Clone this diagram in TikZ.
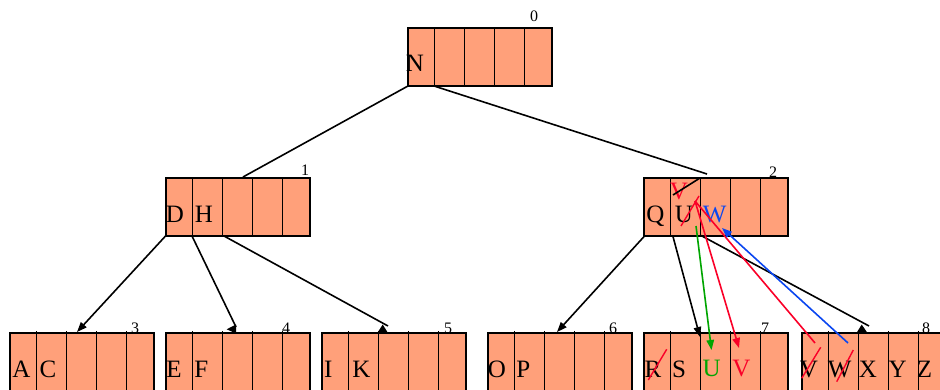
\documentclass[tikz,border=0pt]{standalone}
\usepackage{fontspec}
\setmainfont{Liberation Serif}
\usetikzlibrary{arrows.meta}
\definecolor{salmonfill}{RGB}{255,160,122}
\definecolor{myred}{RGB}{250,0,40}
\definecolor{mygreen}{RGB}{0,165,0}
\definecolor{myblue}{RGB}{10,70,240}
\newcommand\recbox[4]{%
  \node[rec] (#1) at (#2,#3) {};
  \foreach \d in {26.5,56.5,86.5,116.5} \draw[cell] (#2+\d,#3-#4) -- (#2+\d,#3+58);
}
\begin{document}
\begin{tikzpicture}[x=1pt,y=-1pt,
  rec/.style={draw=black, fill=salmonfill, line width=1.4pt, minimum width=144pt, minimum height=58pt, inner sep=0pt, outer sep=0pt, anchor=north west},
  cell/.style={line width=1.4pt, black},
  key/.style={font=\fontsize{25}{25}\selectfont, inner sep=0pt, anchor=base},
  num/.style={font=\fontsize{16}{16}\selectfont, inner sep=0pt},
  edge/.style={line width=1.6pt, black},
  tipped/.style={-{Triangle[length=10pt,width=7.5pt]}},
  strike/.style={myred, line width=1.4pt},
  head/.style={fill=black, draw=none}]
\useasboundingbox (0,0) rectangle (940,390);
\clip (0,0) rectangle (940,390);
% records
\recbox{n0}{408}{28}{0}
\recbox{n1}{166}{178}{0}
\recbox{n2}{644}{178}{0}
\recbox{n3}{10}{333}{2}
\recbox{n4}{166}{333}{2}
\recbox{n5}{322}{333}{2}
\recbox{n6}{488}{333}{2}
\recbox{n7}{644}{333}{2}
\recbox{n8}{802}{333}{2}
% numbers
\node[num] (l0) at (534,16) {0};
\node[num] (l1) at (305,170.5) {1};
\node[num] (l2) at (773,172.5) {2};
\node[num] (l3) at (135,328) {3};
\node[num] (l4) at (286,328) {4};
\node[num] (l5) at (448,328) {5};
\node[num] (l6) at (613,328) {6};
\node[num] (l7) at (765,328) {7};
\node[num] (l8) at (926,328.5) {8};
% keys
\node[key] (kN) at (415,72) {N};
\node[key] (kD) at (175,222.5) {D};
\node[key] (kH) at (204,222.5) {H};
\node[key] (kQ) at (655.5,222.5) {Q};
\node[key] (kU) at (684,223) {U};
\node[key, text=myblue] (kW) at (714.7,223) {W};
\node[key, text=myred] (kV) at (679,200) {V};
\node[key] (kA) at (21.3,377.5) {A};
\node[key] (kC) at (48,377.5) {C};
\node[key] (kE) at (174,377) {E};
\node[key] (kF) at (201.3,377) {F};
\node[key] (kI) at (328.3,377.5) {I};
\node[key] (kK) at (361.3,377.5) {K};
\node[key] (kO) at (497,377.5) {O};
\node[key] (kP) at (523.3,377.5) {P};
\node[key] (kR) at (653,377.5) {R};
\node[key] (kS) at (679,377.5) {S};
\node[key, text=mygreen] (kU7) at (711.7,376.5) {U};
\node[key, text=myred] (kV7) at (741.3,376.5) {V};
\node[key] (kV8) at (809,377.5) {V};
\node[key] (kW8) at (839.7,377.5) {W};
\node[key] (kX) at (868,377.5) {X};
\node[key] (kY) at (897.7,377.5) {Y};
\node[key] (kZ) at (924.5,377.5) {Z};
% connector end points
\coordinate (a0) at (408,86);   \coordinate (b1) at (243,177);
\coordinate (a0b) at (434,86);  \coordinate (b2) at (707,174);
\coordinate (h1) at (700,178);  \coordinate (h2) at (673,195);
\coordinate (a13) at (166,235.5); \coordinate (b3) at (77,332);
\coordinate (a14) at (192,236); \coordinate (b4) at (236,327);
\coordinate (a15) at (224,236); \coordinate (b5) at (388,326);
\coordinate (a26) at (645,235.5); \coordinate (b6) at (557,332);
\coordinate (a27) at (672.7,235.5); \coordinate (b7) at (700,337);
\coordinate (a28) at (701,235.5); \coordinate (b8) at (869,326);
\coordinate (gU) at (696,226);  \coordinate (gU7) at (711.5,350);
\coordinate (rV) at (695,201);  \coordinate (rV7) at (739,348);
\coordinate (rV8) at (815,343);
\coordinate (bW8) at (848,343); \coordinate (bW) at (722,228);
% black edges
\draw[edge] (a0) -- (b1);
\draw[edge] (a0b) -- (b2);
\draw[edge] (h1) -- (h2);
\draw[edge, tipped] (a13) -- (b3);
\draw[edge] (a14) -- (b4);
\fill[head] (226.7,329.3) -- (236,324.5) -- (236,333.5) -- cycle;
\draw[edge] (a15) -- (b5);
\fill[head] (382.7,324.5) -- (377.3,333) -- (388,333) -- cycle;
\draw[edge, tipped] (a26) -- (b6);
\draw[edge, tipped] (a27) -- (b7);
\draw[edge] (a28) -- (b8);
\fill[head] (861.7,324.5) -- (856.5,333) -- (867.5,333) -- cycle;
% coloured connectors
\draw[line width=1.6pt, mygreen, tipped] (gU) -- (gU7);
\draw[line width=1.6pt, myred, tipped] (rV) -- (rV7);
\draw[line width=1.6pt, myred] (rV) -- (rV8);
\draw[line width=1.6pt, myblue, tipped] (bW8) -- (bW);
% strikes
\draw[strike] (681,226) -- (699,196);
\draw[strike] (648.3,380) -- (666.7,349.3);
\draw[strike] (801.7,378.3) -- (820.7,347.3);
\draw[strike] (836.7,381.7) -- (853.3,350);
\end{tikzpicture}
\end{document}
